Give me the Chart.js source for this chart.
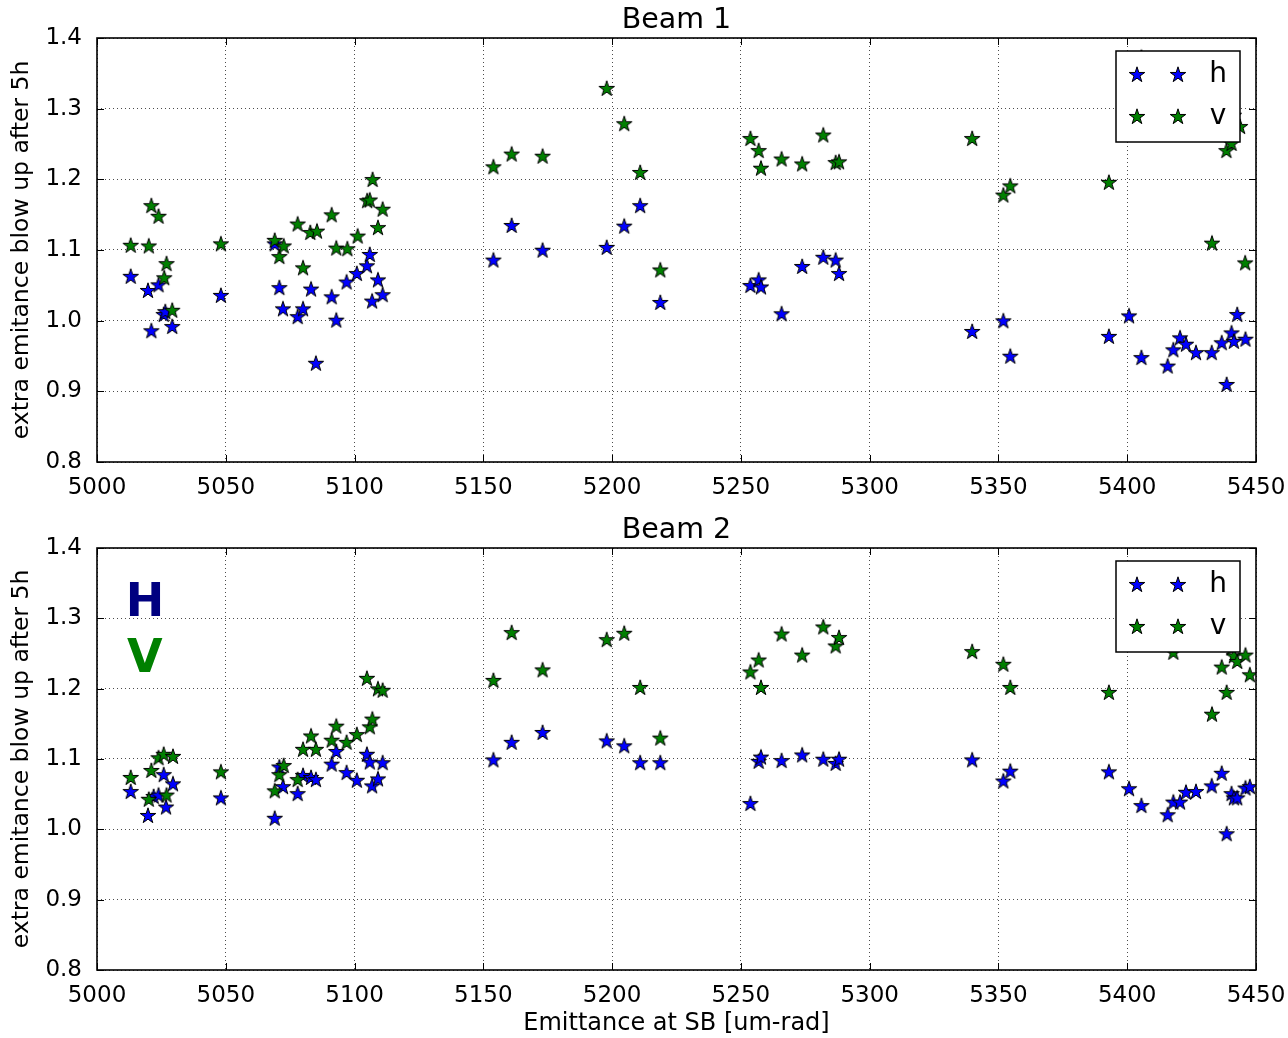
<!DOCTYPE html>
<html>
<head>
<meta charset="utf-8">
<script src="https://cdn.jsdelivr.net/npm/chart.js@4.4.1/dist/chart.umd.min.js"></script>
<style>
  html, body { margin: 0; padding: 0; background: #fff; }
  canvas { display: block; }
</style>
</head>
<body>
<canvas id="c1" width="1288" height="510"></canvas>
<canvas id="c2" width="1288" height="528"></canvas>
<script>
// ---------------- DATA ----------------
const xTicks = [5000, 5050, 5100, 5150, 5200, 5250, 5300, 5350, 5400, 5450];
const yTicks = [0.8, 0.9, 1.0, 1.1, 1.2, 1.3, 1.4];
const seriesNames = ['h', 'v'];
const chartTitles = ['Beam 1', 'Beam 2'];

// Beam 1, horizontal
const b1hX = [5013.1, 5019.8, 5021.1, 5023.9, 5025.9, 5026.5, 5029.2, 5048.1, 5069.0, 5070.8, 5072.2, 5077.9, 5080.0, 5083.1, 5085.0, 5091.1, 5092.9, 5096.9, 5100.9, 5104.8, 5105.9, 5106.8, 5109.1, 5110.9,
              5153.9, 5161.0, 5173.0, 5197.9, 5204.7, 5210.9, 5218.7, 5253.7, 5256.9, 5257.8, 5265.8, 5273.8, 5282.0, 5286.8, 5288.1,
              5339.8, 5351.9, 5354.6, 5392.9, 5400.7, 5405.5, 5415.7, 5417.9, 5420.5, 5422.8, 5426.7, 5432.8, 5436.7, 5438.6, 5440.5, 5441.4, 5442.7, 5445.9];
const b1hY = [1.062, 1.042, 0.985, 1.050, 1.008, 1.012, 0.991, 1.035, 1.108, 1.046, 1.016, 1.005, 1.016, 1.044, 0.939, 1.033, 1.000, 1.054, 1.066, 1.077, 1.093, 1.027, 1.057, 1.036,
              1.085, 1.134, 1.099, 1.103, 1.133, 1.162, 1.025, 1.049, 1.057, 1.047, 1.009, 1.076, 1.089, 1.085, 1.066,
              0.984, 0.999, 0.949, 0.977, 1.006, 0.947, 0.935, 0.958, 0.975, 0.966, 0.954, 0.954, 0.968, 0.909, 0.982, 0.970, 1.008, 0.973];
// Beam 1, vertical
const b1vX = [5013.1, 5020.1, 5021.1, 5023.9, 5026.1, 5027.0, 5029.2, 5048.1, 5069.0, 5070.8, 5072.5, 5077.9, 5080.0, 5082.8, 5085.4, 5091.1, 5092.9, 5097.2, 5101.2, 5104.9, 5105.9, 5107.0, 5109.1, 5110.9,
              5153.9, 5161.0, 5173.0, 5197.9, 5204.7, 5210.9, 5218.7, 5253.7, 5256.9, 5257.8, 5265.8, 5273.8, 5282.0, 5286.8, 5288.1,
              5339.8, 5351.9, 5354.6, 5392.9, 5400.7, 5405.5, 5415.7, 5417.9, 5420.5, 5422.8, 5426.7, 5432.9, 5436.7, 5438.5, 5440.5, 5441.4, 5443.8, 5445.8];
const b1vY = [1.106, 1.105, 1.162, 1.147, 1.060, 1.080, 1.014, 1.108, 1.113, 1.090, 1.105, 1.136, 1.074, 1.124, 1.126, 1.149, 1.102, 1.101, 1.119, 1.169, 1.170, 1.199, 1.131, 1.157,
              1.217, 1.235, 1.232, 1.328, 1.278, 1.209, 1.071, 1.257, 1.240, 1.215, 1.228, 1.221, 1.262, 1.223, 1.224,
              1.257, 1.177, 1.190, 1.195, 1.330, 1.372, 1.300, 1.320, 1.290, 1.310, 1.300, 1.109, 1.300, 1.240, 1.250, 1.290, 1.274, 1.081];
// Beam 2, horizontal
const b2hX = [5013.1, 5019.8, 5022.0, 5023.9, 5025.9, 5026.8, 5029.5, 5048.1, 5069.0, 5070.8, 5072.2, 5077.9, 5080.0, 5083.1, 5085.0, 5091.1, 5092.9, 5096.9, 5100.9, 5104.8, 5105.9, 5106.8, 5109.1, 5110.9,
              5153.9, 5161.0, 5173.0, 5197.9, 5204.7, 5210.9, 5218.7, 5253.7, 5256.9, 5257.8, 5265.8, 5273.8, 5282.0, 5286.8, 5288.1,
              5339.8, 5351.9, 5354.6, 5392.9, 5400.7, 5405.5, 5415.7, 5417.9, 5420.5, 5422.8, 5426.7, 5432.8, 5436.7, 5438.6, 5440.5, 5441.4, 5442.7, 5445.9, 5447.6];
const b2hY = [1.053, 1.019, 1.046, 1.048, 1.077, 1.031, 1.064, 1.044, 1.015, 1.088, 1.060, 1.050, 1.076, 1.073, 1.070, 1.092, 1.110, 1.080, 1.069, 1.106, 1.095, 1.061, 1.071, 1.094,
              1.098, 1.123, 1.137, 1.125, 1.118, 1.094, 1.094, 1.036, 1.096, 1.102, 1.097, 1.105, 1.099, 1.093, 1.099,
              1.098, 1.068, 1.082, 1.081, 1.057, 1.033, 1.020, 1.038, 1.038, 1.052, 1.053, 1.061, 1.079, 0.993, 1.050, 1.044, 1.044, 1.058, 1.060];
// Beam 2, vertical
const b2vX = [5013.1, 5020.1, 5021.1, 5023.9, 5025.9, 5027.0, 5029.5, 5048.1, 5069.0, 5070.8, 5072.5, 5077.9, 5080.0, 5083.1, 5085.0, 5091.1, 5092.9, 5096.9, 5100.9, 5104.8, 5105.9, 5106.9, 5109.1, 5110.9,
              5153.9, 5161.0, 5173.0, 5197.9, 5204.7, 5210.9, 5218.7, 5253.7, 5256.9, 5257.8, 5265.8, 5273.8, 5282.0, 5286.8, 5288.1,
              5339.8, 5351.9, 5354.6, 5392.9, 5400.7, 5405.5, 5415.7, 5417.9, 5420.5, 5422.8, 5426.7, 5432.9, 5436.7, 5438.6, 5440.5, 5441.4, 5442.7, 5445.9, 5447.6];
const b2vY = [1.073, 1.042, 1.083, 1.101, 1.106, 1.048, 1.103, 1.081, 1.054, 1.077, 1.090, 1.070, 1.113, 1.132, 1.113, 1.126, 1.146, 1.123, 1.134, 1.214, 1.145, 1.156, 1.199, 1.197,
              1.211, 1.279, 1.226, 1.269, 1.278, 1.201, 1.129, 1.223, 1.240, 1.201, 1.277, 1.247, 1.287, 1.260, 1.272,
              1.252, 1.234, 1.201, 1.194, 1.320, 1.300, 1.330, 1.251, 1.310, 1.300, 1.290, 1.163, 1.230, 1.194, 1.257, 1.246, 1.238, 1.247, 1.219];

// annotation (Beam 2): text, x, y, colour
const noteText = ['H', 'V'];
const noteX = [5018.6, 5018.6];
const noteY = [1.320, 1.241];
const noteColor = ['#000080', '#008000'];

// ---------------- STYLE ----------------
const FONT = "'DejaVu Sans', sans-serif";
const BLUE = '#0000ff';
const GREEN = '#008000';

function makeStar(fill) {
  const c = document.createElement('canvas');
  c.width = 22; c.height = 22;
  const g = c.getContext('2d');
  const R = 8.2, r = R * 0.382;
  g.beginPath();
  for (let i = 0; i < 10; i++) {
    const a = -Math.PI / 2 + i * Math.PI / 5;
    const rad = (i % 2) ? r : R;
    g.lineTo(11 + rad * Math.cos(a), 11 + rad * Math.sin(a));
  }
  g.closePath();
  g.fillStyle = fill; g.fill();
  g.lineWidth = 1; g.strokeStyle = '#000'; g.lineJoin = 'miter'; g.stroke();
  return c;
}
const starBlue = makeStar(BLUE);
const starGreen = makeStar(GREEN);

const toPts = (X, Y) => X.map((x, i) => ({ x: x, y: Y[i] }));

const decor = {
  id: 'decor',
  afterDatasetsDraw(chart, args, opts) {
    const { ctx, chartArea: a, scales: { x, y } } = chart;
    ctx.save();
    // inward tick marks
    ctx.strokeStyle = '#000'; ctx.lineWidth = 1;
    ctx.beginPath();
    x.ticks.forEach(t => {
      const px = Math.round(x.getPixelForValue(t.value)) + 0.5;
      ctx.moveTo(px, a.bottom); ctx.lineTo(px, a.bottom - 7);
      ctx.moveTo(px, a.top); ctx.lineTo(px, a.top + 7);
    });
    y.ticks.forEach(t => {
      const py = Math.round(y.getPixelForValue(t.value)) + 0.5;
      ctx.moveTo(a.left, py); ctx.lineTo(a.left + 7, py);
      ctx.moveTo(a.right, py); ctx.lineTo(a.right - 7, py);
    });
    ctx.stroke();
    // frame
    ctx.lineWidth = 1.6;
    ctx.strokeRect(a.left, a.top, a.right - a.left, a.bottom - a.top);
    // title
    ctx.fillStyle = '#000';
    ctx.font = "28.5px " + FONT;
    ctx.textAlign = 'center'; ctx.textBaseline = 'middle';
    ctx.fillText(opts.title, (a.left + a.right) / 2, a.top - 17);
    // annotations
    if (opts.notes) {
      ctx.font = "bold 46px " + FONT;
      ctx.textAlign = 'center'; ctx.textBaseline = 'middle';
      noteText.forEach((t, i) => {
        ctx.fillStyle = noteColor[i];
        ctx.fillText(t, x.getPixelForValue(noteX[i]), y.getPixelForValue(noteY[i]));
      });
    }
    // legend box
    const bx = a.right - 140, by = a.top + 13, bw = 124, bh = 91;
    ctx.fillStyle = '#fff';
    ctx.fillRect(bx, by, bw, bh);
    ctx.lineWidth = 1.5; ctx.strokeStyle = '#000';
    ctx.strokeRect(bx, by, bw, bh);
    ctx.font = "28px " + FONT;
    ctx.textAlign = 'center'; ctx.textBaseline = 'middle'; ctx.fillStyle = '#000';
    chart.data.datasets.forEach((ds, i) => {
      const ry = by + 24 + i * 42;
      [21, 62].forEach(dx => {
        const img = ds.pointStyle;
        ctx.drawImage(img, bx + dx - img.width / 2, ry - img.height / 2);
      });
      ctx.fillText(ds.label, bx + 102, ry);
    });
    ctx.restore();
  }
};

function makeChart(id, title, hX, hY, vX, vY, xAxisH, showXTitle, notes) {
  return new Chart(document.getElementById(id), {
    type: 'scatter',
    data: {
      datasets: [
        { label: seriesNames[0], data: toPts(hX, hY), pointStyle: starBlue, order: 2 },
        { label: seriesNames[1], data: toPts(vX, vY), pointStyle: starGreen, order: 1 }
      ]
    },
    options: {
      responsive: false,
      animation: false,
      devicePixelRatio: 1,
      events: [],
      layout: { padding: { left: 0, right: 32, top: 38, bottom: 0 } },
      plugins: {
        legend: { display: false },
        tooltip: { enabled: false },
        title: { display: false },
        decor: { notes: notes, title: title }
      },
      scales: {
        x: {
          type: 'linear', min: 5000, max: 5450,
          afterBuildTicks: s => { s.ticks = xTicks.map(v => ({ value: v })); },
          afterFit: s => { s.height = xAxisH; s.paddingLeft = 0; s.paddingRight = 0; },
          ticks: { color: '#000', font: { family: FONT, size: 23 }, padding: 12, maxRotation: 0, callback: v => String(v) },
          grid: { color: 'rgba(0,0,0,0.7)', lineWidth: 1, drawTicks: false },
          border: { display: false, dash: [1, 3] },
          title: {
            display: showXTitle, text: 'Emittance at SB [um-rad]', color: '#000',
            font: { family: FONT, size: 24 }, padding: { top: 0, bottom: 0 }
          }
        },
        y: {
          type: 'linear', min: 0.8, max: 1.4,
          afterBuildTicks: s => { s.ticks = yTicks.map(v => ({ value: v })); },
          afterFit: s => { s.width = 97; s.paddingTop = 0; s.paddingBottom = 0; },
          ticks: { color: '#000', font: { family: FONT, size: 23 }, padding: 15, callback: v => v.toFixed(1) },
          grid: { color: 'rgba(0,0,0,0.7)', lineWidth: 1, drawTicks: false },
          border: { display: false, dash: [1, 3] },
          title: {
            display: true, text: 'extra emitance blow up after 5h', color: '#000',
            font: { family: FONT, size: 23.5 }, padding: { top: 8, bottom: 0 }
          }
        }
      }
    },
    plugins: [decor]
  });
}

makeChart('c1', chartTitles[0], b1hX, b1hY, b1vX, b1vY, 48, false, false);
makeChart('c2', chartTitles[1], b2hX, b2hY, b2vX, b2vY, 68, true, true);
</script>
</body>
</html>
